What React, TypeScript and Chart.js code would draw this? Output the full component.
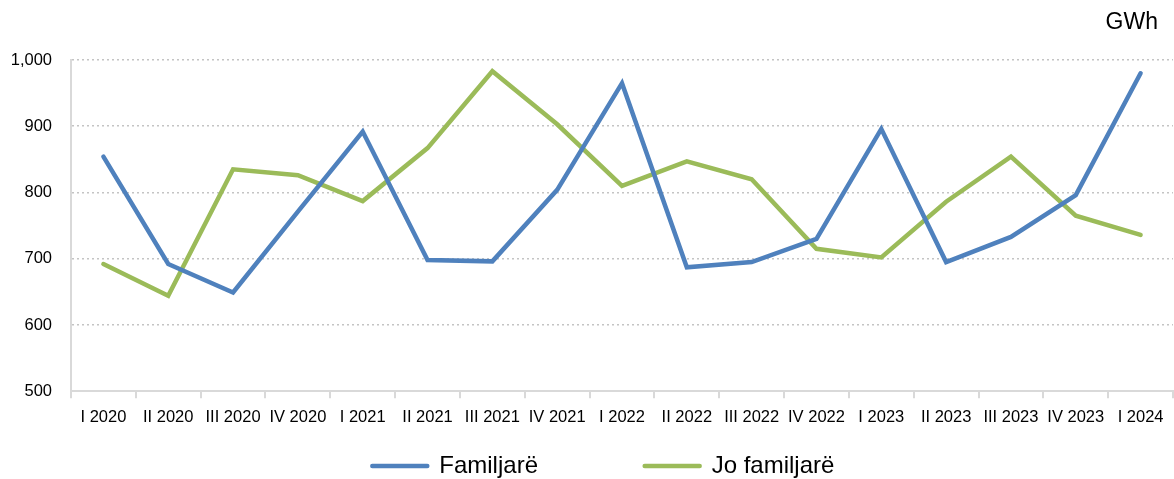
import React, { useEffect, useRef } from "react";
import { Chart, registerables } from "chart.js";

Chart.register(...registerables);

const categories = [
  "I 2020", "II 2020", "III 2020", "IV 2020",
  "I 2021", "II 2021", "III 2021", "IV 2021",
  "I 2022", "II 2022", "III 2022", "IV 2022",
  "I 2023", "II 2023", "III 2023", "IV 2023",
  "I 2024",
];

const familjare = [854, 692, 649, 771, 892, 698, 696, 804, 965, 687, 695, 730, 896, 695, 733, 796, 980];
const joFamiljare = [692, 644, 835, 826, 787, 867, 983, 903, 810, 847, 820, 715, 702, 786, 854, 765, 736];

const yTicks = [500, 600, 700, 800, 900, 1000];
const unitLabel = "GWh";

export default function App() {
  const ref = useRef<HTMLCanvasElement | null>(null);

  useEffect(() => {
    if (!ref.current) return;
    const tickFont = { family: '"Liberation Sans", Arial', size: 16.5 };

    const unitPlugin = {
      id: "unitLabel",
      afterDraw(chart: any) {
        const ctx = chart.ctx;
        ctx.save();
        ctx.font = '23px "Liberation Sans", Arial';
        ctx.fillStyle = "#000";
        ctx.textAlign = "right";
        ctx.textBaseline = "middle";
        ctx.fillText(unitLabel, chart.chartArea.right - 15, 23);
        ctx.restore();
      },
    };

    const chart = new Chart(ref.current, {
      type: "line",
      data: {
        labels: categories,
        datasets: [
          {
            label: "Familjarë",
            data: familjare,
            borderColor: "#4F81BD",
            backgroundColor: "#4F81BD",
            borderWidth: 4.5,
            borderCapStyle: "round",
            borderJoinStyle: "miter",
            pointRadius: 0,
            tension: 0,
          },
          {
            label: "Jo familjarë",
            data: joFamiljare,
            borderColor: "#9BBB59",
            backgroundColor: "#9BBB59",
            borderWidth: 4.5,
            borderCapStyle: "round",
            borderJoinStyle: "miter",
            pointRadius: 0,
            tension: 0,
          },
        ],
      },
      plugins: [unitPlugin],
      options: {
        animation: false,
        responsive: false,
        maintainAspectRatio: false,
        layout: { padding: { top: 60, right: 1, bottom: -9, left: 0 } },
        plugins: {
          legend: {
            position: "bottom",
            labels: {
              usePointStyle: true,
              pointStyle: "line",
              pointStyleWidth: 55,
              boxHeight: 24,
              padding: 0,
              color: "#000",
              font: { family: '"Liberation Sans", Arial', size: 24 },
              generateLabels(chart: any) {
                const items = Chart.defaults.plugins.legend.labels.generateLabels(chart);
                items.forEach((it: any, i: number) => {
                  it.lineWidth = 4.5;
                  it.lineCap = "round";
                  if (i === 0) it.text = it.text + "\u00a0".repeat(16);
                  else it.text = it.text + "\u00a0".repeat(5);
                });
                const spacer = {
                  text: "",
                  fillStyle: "rgba(0,0,0,0)",
                  strokeStyle: "rgba(0,0,0,0)",
                  lineWidth: 0,
                  hidden: false,
                  pointStyle: "line",
                  datasetIndex: -1,
                };
                return [spacer, ...items];
              },
            },
          },
          tooltip: { enabled: false },
          title: { display: false },
        },
        scales: {
          x: {
            offset: true,
            afterFit(scale: any) {
              scale.height = scale.height + 18;
            },
            grid: {
              offset: true,
              drawOnChartArea: false,
              drawTicks: true,
              tickLength: 7,
              color: "#d9d9d9",
              lineWidth: 2,
            },
            border: { display: true, color: "#d9d9d9", width: 2 },
            ticks: {
              color: "#000",
              font: tickFont,
              padding: 9,
              maxRotation: 0,
              autoSkip: false,
            },
          },
          y: {
            min: 500,
            max: 1000,
            afterBuildTicks(scale: any) {
              scale.ticks = yTicks.map((v) => ({ value: v }));
            },
            afterFit(scale: any) {
              scale.width = 71;
            },
            grid: {
              color: (c: any) => (c.tick && c.tick.value === 500 ? "rgba(0,0,0,0)" : "#c4c4c4"),
              lineWidth: 1.5,
              drawTicks: false,
            },
            border: { display: true, color: "#d9d9d9", width: 2, dash: [2, 3] },
            ticks: {
              color: "#000",
              font: tickFont,
              padding: 19,
              callback: (v: any) => Number(v).toLocaleString("en-US"),
            },
          },
        },
      },
    } as any);

    return () => chart.destroy();
  }, []);

  return (
    <div style={{ position: "absolute", left: 0, top: 0, width: 1174, height: 479, background: "#fff" }}>
      <canvas ref={ref} width={1174} height={479} style={{ width: 1174, height: 479 }} />
    </div>
  );
}
